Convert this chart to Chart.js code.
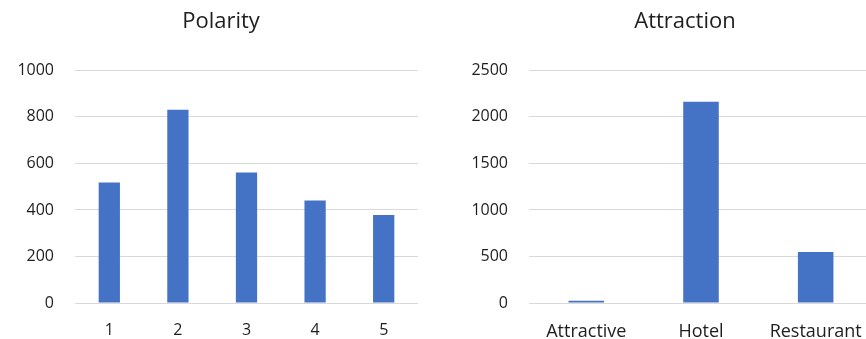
<!DOCTYPE html>
<html>
<head>
<meta charset="utf-8">
<script src="https://cdn.jsdelivr.net/npm/chart.js@4"></script>
<style>
  body { margin: 0; width: 866px; height: 339px; overflow: hidden; background: #fff; position: relative; }
  #polarity { position: absolute; left: 0; top: 0; }
  #attraction { position: absolute; left: 442px; top: 0; }
</style>
</head>
<body>
<canvas id="polarity" width="442" height="339"></canvas>
<canvas id="attraction" width="486" height="339"></canvas>
<script>
const polarityLabels = ["1", "2", "3", "4", "5"];
const polarityValues = [518, 831, 561, 441, 378];

const attractionLabels = ["Attractive", "Hotel", "Restaurant"];
const attractionValues = [25, 2163, 547];

const barColor = "#4472c4";
const gridColor = "#d9d9d9";
const textColor = "#1e1e1e";
const fontFamily = "'Open Sans', sans-serif";

// keep the title centred on the whole canvas, not on the padded box
const centerTitle = {
  id: "centerTitle",
  afterLayout(chart) {
    if (chart.titleBlock) {
      chart.titleBlock.left = 0;
      chart.titleBlock.right = chart.width;
    }
  },
};

function makeChart(id, title, labels, values, max, step, axisWidth, padRight, xFont) {
  const ctx = document.getElementById(id);
  return new Chart(ctx, {
    type: "bar",
    data: {
      labels: labels,
      datasets: [
        {
          label: title,
          data: values,
          backgroundColor: barColor,
          borderWidth: 0,
          categoryPercentage: 1,
          barPercentage: 0.31,
        },
      ],
    },
    plugins: [centerTitle],
    options: {
      responsive: false,
      animation: false,
      layout: { padding: { left: 0, right: padRight, top: 0, bottom: 0 } },
      plugins: {
        legend: { display: false },
        tooltip: { enabled: false },
        title: {
          display: true,
          text: title,
          color: textColor,
          font: { family: fontFamily, size: 22, weight: "normal" },
          padding: { top: 9, bottom: 35 },
        },
      },
      scales: {
        x: {
          grid: { display: false },
          border: { display: false },
          ticks: {
            color: textColor,
            font: { family: fontFamily, size: xFont },
            padding: 10,
            maxRotation: 0,
          },
          afterFit: (scale) => {
            scale.height = 36;
          },
        },
        y: {
          min: 0,
          max: max,
          grid: { color: gridColor, lineWidth: 1, drawTicks: false },
          border: { display: false },
          ticks: {
            stepSize: step,
            color: textColor,
            font: { family: fontFamily, size: 16 },
            padding: 21,
            callback: (value) => String(value),
          },
          afterFit: (scale) => {
            scale.width = axisWidth;
          },
        },
      },
    },
  });
}

makeChart("polarity", "Polarity", polarityLabels, polarityValues, 1000, 200, 75, 24, 16);
makeChart("attraction", "Attraction", attractionLabels, attractionValues, 2500, 500, 87, 55, 18);
</script>
</body>
</html>
